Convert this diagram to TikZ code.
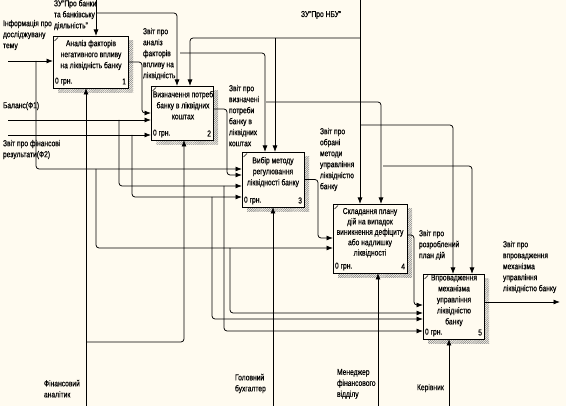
\documentclass[tikz,border=0pt]{standalone}
\usepackage{fontspec}
\setmainfont{Liberation Sans}[FakeStretch=0.78,FakeBold=0.4]
\usetikzlibrary{arrows.meta,patterns.meta}
\definecolor{bg}{RGB}{255,251,240}
\begin{document}
\begin{tikzpicture}[x=1pt,y=-1pt,
  every node/.style={font=\fontsize{8.6}{11}\selectfont, inner sep=0pt, outer sep=0pt},
  func/.style={draw, line width=0.9pt, fill=bg, anchor=north west,
    preaction={draw=none, pattern={Lines[angle=45,distance=1.5pt,line width=0.6pt]}, pattern color=gray!90,
      transform canvas={shift={(5pt,-5pt)}}}},
  conn/.style={line width=0.75pt, rounded corners=3pt},
  arr/.style={conn, -{Latex[length=6.5pt,width=5pt]}},
  lbl/.style={anchor=north west, align=left},
  ttl/.style={anchor=north, align=center},
  cost/.style={anchor=west},
  num/.style={anchor=east},
  tick/.style={line width=0.5pt}]
\fill[bg] (0,0) rectangle (566,406);
\useasboundingbox (0,0) rectangle (566,406);

% function boxes
\node[func, minimum width=75pt, minimum height=52pt] (b1) at (53,36) {};
\node[func, minimum width=62pt, minimum height=54pt] (b2) at (151,86) {};
\node[func, minimum width=62pt, minimum height=55pt] (b3) at (242,152) {};
\node[func, minimum width=74pt, minimum height=69pt] (b4) at (333,204) {};
\node[func, minimum width=61pt, minimum height=65pt] (b5) at (423,274) {};

\foreach \b in {b1,b2,b3,b4,b5}{
  \draw[tick] ([shift={(1.5,5)}]\b.north west) -- ([shift={(5,1.5)}]\b.north west);
}

% box texts
\node[ttl] at (91,40) {Аналіз факторів\\негативного впливу\\на ліквідність банку};
\node[cost] at ([shift={(2,-6.5)}]b1.south west) {0 грн.};
\node[num] at ([shift={(-2,-6.5)}]b1.south east) {1};
\node[ttl] at (183,91) {Визначення потреб\\банку в ліквідних\\коштах};
\node[cost] at ([shift={(2,-6.5)}]b2.south west) {0 грн.};
\node[num] at ([shift={(-2,-6.5)}]b2.south east) {2};
\node[ttl] at (273,157) {Вибір методу\\регулювання\\ліквідності банку};
\node[cost] at ([shift={(2,-6.5)}]b3.south west) {0 грн.};
\node[num] at ([shift={(-2,-6.5)}]b3.south east) {3};
\node[ttl,font=\fontsize{8.6}{10.4}\selectfont] at (370,208) {Складання плану\\дій на випадок\\виникнення дефіциту\\або надлишку\\ліквідності};
\node[cost] at ([shift={(2,-6.5)}]b4.south west) {0 грн.};
\node[num] at ([shift={(-2,-6.5)}]b4.south east) {4};
\node[ttl] at (454,274.5) {Впровадження\\механізма\\управління\\ліквідністю\\банку};
\node[cost] at ([shift={(2,-6.5)}]b5.south west) {0 грн.};
\node[num] at ([shift={(-2,-6.5)}]b5.south east) {5};

% free ends
\coordinate (inf) at (8,61);
\coordinate (bal) at (8,120);
\coordinate (f2) at (8,135);
\coordinate (zub) at (96,0);
\coordinate (nbu) at (360,0);
\coordinate (m1) at (86,406);
\coordinate (m3) at (273,406);
\coordinate (m4) at (378,406);
\coordinate (m5) at (449,406);
\coordinate (out5) at (560,302);

% inputs
\draw[arr] (inf) -- (inf -| b1.west);
\draw[arr] (36,61) |- (0,169 -| b3.west);
\draw[arr] (96,169) |- (0,248 -| b4.west);
\draw[arr] (230,248) |- (0,313 -| b5.west);
\draw[arr] (bal) -- (bal -| b2.west);
\draw[arr] (119,120) |- (0,186 -| b3.west);
\draw[arr] (224,186) |- (0,331 -| b5.west);
\draw[arr] (f2) -- (f2 -| b2.west);
\draw[arr] (132,135) |- (0,197 -| b3.west);
\draw[arr] (212,197) |- (0,319 -| b5.west);

% outputs
\draw[arr] (b1.east) -- (142,62) |- (0,113 -| b2.west);
\draw[arr] (180,53) -| (265,0 |- b3.north);
\draw[arr] (b2.east |- 0,109) -- (227,109) |- (0,175 -| b3.west);
\draw[arr] (266,102) -| (381,0 |- b4.north);
\draw[arr] (b3.east) -- (318,179.5) |- (0,238 -| b4.west);
\draw[arr] (383,166) -| (472,0 |- b5.north);
\draw[arr] (b4.east |- 0,235) -- (414,235) |- (0,305 -| b5.west);
\draw[arr] (b5.east |- out5) -- (out5);

% controls
\draw[arr] (zub) -- (zub |- b1.north);
\draw[arr] (96,13) -| (177,0 |- b2.north);
\draw[arr] (nbu) -- (nbu |- b4.north);
\draw[arr] (360,38) -| (190,0 |- b2.north);
\draw[arr] (275,38) -- (275,0 |- b3.north);
\draw[arr] (360,125) -| (453,0 |- b5.north);

% mechanisms
\draw[arr] (m1) -- (m1 |- b1.south);
\draw[arr] (86,342) -| (184,0 |- b2.south);
\draw[arr] (m3) -- (m3 |- b3.south);
\draw[arr] (m4) -- (m4 |- b4.south);
\draw[arr] (m5) -- (m5 |- b5.south);

% labels
\node[lbl] at (54,0) {ЗУ"Про банки\\та банківську\\діяльність"};
\node[lbl] at (3,20) {Інформація про\\досліджувану\\тему};
\node[lbl] at (3,102) {Баланс(Ф1)};
\node[lbl] at (3,140) {Звіт про фінансові\\результати(Ф2)};
\node[lbl] at (143,28) {Звіт про\\аналіз\\факторів\\впливу на\\ліквідність};
\node[lbl] at (229,85) {Звіт про\\визначені\\потреби\\банку в\\ліквідних\\коштах};
\node[lbl] at (320,128) {Звіт про\\обрані\\методи\\управління\\ліквідністю\\банку};
\node[lbl] at (419,230) {Звіт про\\розроблений\\план дій};
\node[lbl] at (503,241) {Звіт про\\впровадження\\механізма\\управління\\ліквідністю банку};
\node[lbl] at (301,11) {ЗУ"Про НБУ"};
\node[lbl] at (44,380) {Фінансовий\\аналітик};
\node[lbl] at (235,374) {Головний\\бухгалтер};
\node[lbl] at (337,369) {Менеджер\\фінансового\\відділу};
\node[lbl] at (417,384) {Керівник};
\end{tikzpicture}
\end{document}
